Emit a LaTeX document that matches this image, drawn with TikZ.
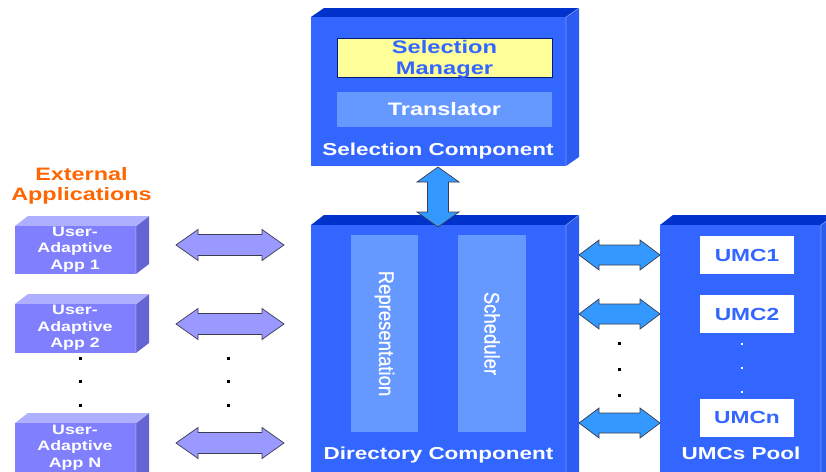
\documentclass[tikz,border=0pt]{standalone}
\usepackage{fontspec}
\setmainfont{Liberation Sans}
\newfontfamily\wbold[FakeStretch=1.3]{Liberation Sans Bold}
\newfontfamily\rfont[FakeBold=0.6]{Liberation Sans}
\definecolor{front}{RGB}{51,102,255}
\definecolor{topc}{RGB}{0,51,204}
\definecolor{sidec}{RGB}{45,92,240}
\definecolor{inner}{RGB}{102,153,255}
\definecolor{yel}{RGB}{255,255,153}
\definecolor{arrb}{RGB}{51,153,255}
\definecolor{appf}{RGB}{128,128,255}
\definecolor{appt}{RGB}{175,175,255}
\definecolor{apps}{RGB}{100,100,210}
\definecolor{arrl}{RGB}{153,153,255}
\definecolor{orng}{RGB}{255,102,0}
\definecolor{edge}{RGB}{60,60,80}
\tikzset{
  frontbox/.style={rectangle, inner sep=0pt, fill=#1},
  lbl/.style={text=white, font=\wbold\fontsize{17.3}{20}\selectfont, inner sep=0pt},
  applbl/.style={text=white, font=\wbold\fontsize{13.7}{16.3}\selectfont, align=center, inner sep=0pt},
  umcbox/.style={rectangle, fill=white, minimum width=94pt, minimum height=38pt, inner sep=0pt,
     text=front, font=\wbold\fontsize{17.5}{20}\selectfont},
  rotlbl/.style={text=white, font=\rfont\fontsize{18.5}{20}\selectfont, rotate=-90, yscale=1.15, inner sep=0pt},
  dotb/.style={fill=black, minimum size=3pt, inner sep=0pt, rectangle},
  dotw/.style={fill=white, minimum size=3pt, inner sep=0pt, rectangle},
  arrowline/.style={draw=edge, line width=0.7pt, line join=miter},
}
% 3D box: #1 x1, #2 y1, #3 x2, #4 y2, #5 d, #6 h, #7 front, #8 top, #9 side
\newcommand\threedbox[9]{%
  \fill[#8] (#1,#2) -- (#1+#5,#2-#6) -- (#3+#5,#2-#6) -- (#3,#2) -- cycle;
  \fill[#9] (#3,#2) -- (#3+#5,#2-#6) -- (#3+#5,#4-#6) -- (#3,#4) -- cycle;
  \fill[#7] (#1,#2) rectangle (#3,#4);
  \draw[white, opacity=0.35, line width=0.6pt] (#3,#4) -- (#3,#2) -- (#3+#5,#2-#6);
}
% horizontal double arrow: #1 x1, #2 x2, #3 yc, #4 head length, #5 head half, #6 shaft half, #7 fill
\newcommand\hdarrow[7]{%
  \filldraw[arrowline, fill=#7] (#1,#3) -- (#1+#4,#3-#5) -- (#1+#4,#3-#6) -- (#2-#4,#3-#6)
    -- (#2-#4,#3-#5) -- (#2,#3) -- (#2-#4,#3+#5) -- (#2-#4,#3+#6) -- (#1+#4,#3+#6)
    -- (#1+#4,#3+#5) -- cycle;
}
\newcommand\vdarrow[7]{%
  \filldraw[arrowline, fill=#7] (#3,#1) -- (#3-#5,#1+#4) -- (#3-#6,#1+#4) -- (#3-#6,#2-#4)
    -- (#3-#5,#2-#4) -- (#3,#2) -- (#3+#5,#2-#4) -- (#3+#6,#2-#4) -- (#3+#6,#1+#4)
    -- (#3+#5,#1+#4) -- cycle;
}
\begin{document}
\begin{tikzpicture}[x=1pt, y=-1pt]
\useasboundingbox (0,0) rectangle (826,471);
\clip (0,0) rectangle (826,471);
\fill[white] (0,0) rectangle (826,471);

% ---------- Selection Component ----------
\threedbox{311}{17}{566}{166}{13}{9}{front}{topc}{sidec}
\node[frontbox=yel, draw=topc!60!black, line width=0.6pt, minimum width=215pt, minimum height=39pt] (selmgr) at (444.5,57.5) {};
\node[text=front, font=\wbold\fontsize{18.2}{21}\selectfont, align=center, inner sep=0pt]
  (selmgrtxt) at (444.5,59) {Selection\\Manager};
\node[frontbox=inner, minimum width=215pt, minimum height=35pt] (transl) at (444.5,109.5) {};
\node[lbl, font=\wbold\fontsize{18}{20}\selectfont] at (transl) {Translator};
\node[lbl] (selcomp) at (438,151) {Selection Component};

% ---------- Directory Component ----------
\threedbox{311}{225}{566}{490}{13}{10}{front}{topc}{sidec}
\node[frontbox=inner, minimum width=67pt, minimum height=197pt] (repr) at (384.5,333.5) {};
\node[rotlbl] at (repr) {Representation};
\node[frontbox=inner, minimum width=68pt, minimum height=197pt] (sched) at (492,333.5) {};
\node[rotlbl] at (sched) {Scheduler};
\node[lbl] (dircomp) at (438.5,455) {Directory Component};

% ---------- UMCs Pool ----------
\threedbox{660}{225}{821}{490}{13}{10}{front}{topc}{sidec}
\node[umcbox] (umc1) at (747,255) {UMC1};
\node[umcbox] (umc2) at (747,314) {UMC2};
\node[umcbox] (umcn) at (747,417.5) {UMCn};
\node[dotw, minimum size=2.5pt] (wd1) at (742,344) {};
\node[dotw, minimum size=2.5pt] (wd2) at (742,368) {};
\node[dotw, minimum size=2.5pt] (wd3) at (742,392) {};
\node[lbl] (pool) at (741,453) {UMCs Pool};

% ---------- External Applications ----------
\node[text=orng, font=\wbold\fontsize{18}{20}\selectfont, align=center, inner sep=0pt]
  (ext) at (81.5,186) {External\\Applications};
\threedbox{15}{226}{136}{274}{13}{10}{appf}{appt}{apps}
\node[applbl] (app1) at (75,249.5) {User-\\Adaptive\\App 1};
\threedbox{15}{304}{136}{353}{13}{10}{appf}{appt}{apps}
\node[applbl] (app2) at (75,328) {User-\\Adaptive\\App 2};
\threedbox{15}{423}{136}{490}{13}{10}{appf}{appt}{apps}
\node[applbl] (appn) at (75,447.5) {User-\\Adaptive\\App N};

\node[dotb] (ld1) at (80,358) {};
\node[dotb] (ld2) at (80,381) {};
\node[dotb] (ld3) at (80,405) {};
\node[dotb] (ad1) at (228,358) {};
\node[dotb] (ad2) at (228,381) {};
\node[dotb] (ad3) at (228,405) {};
\node[dotb] (rd1) at (619,343) {};
\node[dotb] (rd2) at (619,369) {};
\node[dotb] (rd3) at (619,395) {};

% ---------- Arrows ----------
\vdarrow{167}{227}{438}{15}{21}{10.5}{arrb}
\hdarrow{176}{284}{245}{22}{15.5}{10.5}{arrl}
\hdarrow{176}{284}{324}{22}{15.5}{10.5}{arrl}
\hdarrow{176}{284}{443}{22}{15.5}{10.5}{arrl}
\hdarrow{579}{660}{255}{20}{15}{10}{arrb}
\hdarrow{579}{660}{314}{20}{15}{10}{arrb}
\hdarrow{579}{660}{423}{20}{15}{10}{arrb}
\end{tikzpicture}
\end{document}
